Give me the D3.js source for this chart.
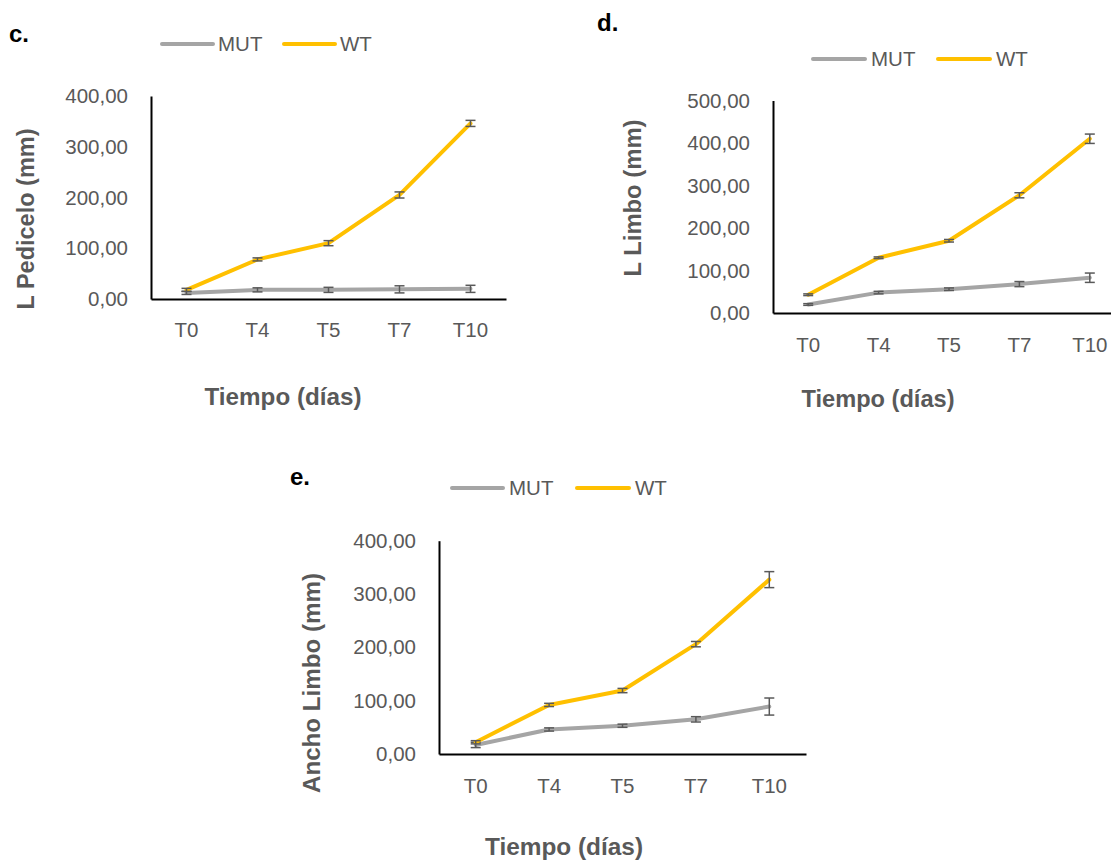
<!DOCTYPE html>
<html>
<head>
<meta charset="utf-8">
<script src="https://cdn.jsdelivr.net/npm/d3@7"></script>
<style>
  html, body { margin: 0; padding: 0; background: #ffffff; }
  svg { display: block; font-family: "Liberation Sans", Arial, sans-serif; }
</style>
</head>
<body>
<svg id="chart" width="1111" height="861"></svg>
<script>
// ---------- DATA ----------
const categories = ["T0", "T4", "T5", "T7", "T10"];
const seriesNames = ["MUT", "WT"];

// Panel c: L Pedicelo (mm)
const yTicksC = [0, 100, 200, 300, 400];
const mutC    = [12, 18, 18, 19, 20];
const mutErrC = [3, 4, 5, 7, 7];
const wtC     = [18, 78, 110, 205, 346];
const wtErrC  = [3, 3, 5, 6, 6];

// Panel d: L Limbo (mm)
const yTicksD = [0, 100, 200, 300, 400, 500];
const mutD    = [20, 48, 56, 68, 83];
const mutErrD = [2, 3, 3, 6, 11];
const wtD     = [43, 130, 170, 277, 410];
const wtErrD  = [2, 2, 3, 6, 11];

// Panel e: Ancho Limbo (mm)
const yTicksE = [0, 100, 200, 300, 400];
const mutE    = [17, 46, 53, 65, 89];
const mutErrE = [5, 3, 3, 5, 16];
const wtE     = [22, 92, 119, 206, 327];
const wtErrE  = [3, 3, 4, 5, 15];

const xTitle = "Tiempo (días)";
const panelLabels = ["c.", "d.", "e."];
const yTitles = ["L Pedicelo (mm)", "L Limbo (mm)", "Ancho Limbo (mm)"];

// ---------- STYLE ----------
const colors = { MUT: "#A5A5A5", WT: "#FFC000" };
const textGray = "#595959";
const errColor = "#595959";

const locale = d3.formatLocale({ decimal: ",", thousands: ".", grouping: [3], currency: ["", "€"] });
const fmt = locale.format(".2f");

// ---------- LAYOUT ----------
const panels = [
  { label: panelLabels[0], labelPos: [9, 42], yTitle: yTitles[0],
    x0: 151, x1: 506, yTop: 96, yBot: 299, ticks: yTicksC,
    mut: mutC, mutErr: mutErrC, wt: wtC, wtErr: wtErrC,
    tickRight: 128, xTickY: 330, xTitlePos: [283, 405], xTitleLen: 157,
    yTitlePos: [34, 219], yTitleLen: 181,
    legendY: 44, legend: [[162, 213, 218], [284, 335, 340]] },
  { label: panelLabels[1], labelPos: [597, 31], yTitle: yTitles[1],
    x0: 773, x1: 1125, yTop: 100.5, yBot: 313, ticks: yTicksD,
    mut: mutD, mutErr: mutErrD, wt: wtD, wtErr: wtErrD,
    tickRight: 750, xTickY: 345, xTitlePos: [878, 407], xTitleLen: 153,
    yTitlePos: [641, 198], yTitleLen: 157,
    legendY: 59, legend: [[813, 865, 871], [938, 990, 996]] },
  { label: panelLabels[2], labelPos: [290, 485], yTitle: yTitles[2],
    x0: 439, x1: 806, yTop: 540.7, yBot: 754, ticks: yTicksE,
    mut: mutE, mutErr: mutErrE, wt: wtE, wtErr: wtErrE,
    tickRight: 416, xTickY: 786, xTitlePos: [564, 855], xTitleLen: 158,
    yTitlePos: [320, 683], yTitleLen: 220,
    legendY: 488, legend: [[452, 503, 509], [577, 629, 635]] }
];

const svg = d3.select("#chart");

panels.forEach(p => {
  const g = svg.append("g");
  const x = d3.scaleBand().domain(categories).range([p.x0, p.x1]);
  const y = d3.scaleLinear().domain([0, d3.max(p.ticks)]).range([p.yBot, p.yTop]);

  // Y axis
  const yAxis = d3.axisLeft(y).tickValues(p.ticks).tickFormat(fmt).tickSize(0).tickSizeOuter(0)
    .tickPadding(p.x0 - p.tickRight);
  const ya = g.append("g").attr("transform", `translate(${p.x0},0)`).call(yAxis);
  ya.select(".domain").attr("stroke", "#000").attr("stroke-width", 2);
  ya.selectAll(".tick text").attr("fill", textGray).attr("font-size", 20.5)
    .attr("font-family", "'Liberation Sans', Arial, sans-serif");

  // X axis
  const xAxis = d3.axisBottom(x).tickSize(0).tickSizeOuter(0);
  const xa = g.append("g").attr("transform", `translate(0,${p.yBot})`).call(xAxis);
  xa.select(".domain").attr("stroke", "#000").attr("stroke-width", 2);
  xa.selectAll(".tick text").attr("fill", textGray).attr("font-size", 20.5)
    .attr("font-family", "'Liberation Sans', Arial, sans-serif")
    .attr("y", p.xTickY - p.yBot).attr("dy", "0.36em");

  // Series
  const series = [
    { name: "MUT", vals: p.mut, err: p.mutErr },
    { name: "WT", vals: p.wt, err: p.wtErr }
  ];
  const line = d3.line().x((d, i) => x(categories[i]) + x.bandwidth() / 2).y(d => y(d));
  series.forEach(s => {
    g.append("path").datum(s.vals)
      .attr("d", line).attr("fill", "none")
      .attr("stroke", colors[s.name]).attr("stroke-width", 4)
      .attr("stroke-linejoin", "round").attr("stroke-linecap", "round");
    const eb = g.append("g");
    s.vals.forEach((v, i) => {
      const cx = x(categories[i]) + x.bandwidth() / 2;
      const yh = y(v + s.err[i]), yl = y(v - s.err[i]);
      eb.append("line").attr("x1", cx).attr("x2", cx).attr("y1", yh).attr("y2", yl)
        .attr("stroke", errColor).attr("stroke-width", 1.5);
      [yh, yl].forEach(yy => {
        eb.append("line").attr("x1", cx - 5).attr("x2", cx + 5).attr("y1", yy).attr("y2", yy)
          .attr("stroke", errColor).attr("stroke-width", 1.5);
      });
    });
  });

  // Legend
  seriesNames.forEach((n, i) => {
    const [lx0, lx1, tx] = p.legend[i];
    g.append("line").attr("x1", lx0).attr("x2", lx1).attr("y1", p.legendY).attr("y2", p.legendY)
      .attr("stroke", colors[n]).attr("stroke-width", 4).attr("stroke-linecap", "round");
    g.append("text").attr("x", tx).attr("y", p.legendY).attr("dy", "0.36em")
      .attr("font-size", 20.5).attr("fill", textGray).text(n);
  });

  // Axis titles
  g.append("text").attr("x", p.xTitlePos[0]).attr("y", p.xTitlePos[1])
    .attr("text-anchor", "middle").attr("font-size", 24).attr("font-weight", "bold")
    .attr("fill", textGray).attr("textLength", p.xTitleLen).attr("lengthAdjust", "spacingAndGlyphs")
    .text(xTitle);
  g.append("text")
    .attr("transform", `translate(${p.yTitlePos[0]},${p.yTitlePos[1]}) rotate(-90)`)
    .attr("text-anchor", "middle").attr("font-size", 24).attr("font-weight", "bold")
    .attr("fill", textGray).attr("textLength", p.yTitleLen).attr("lengthAdjust", "spacingAndGlyphs")
    .text(p.yTitle);

  // Panel label
  g.append("text").attr("x", p.labelPos[0]).attr("y", p.labelPos[1])
    .attr("font-size", 24).attr("font-weight", "bold").attr("fill", "#000").text(p.label);
});
</script>
</body>
</html>
